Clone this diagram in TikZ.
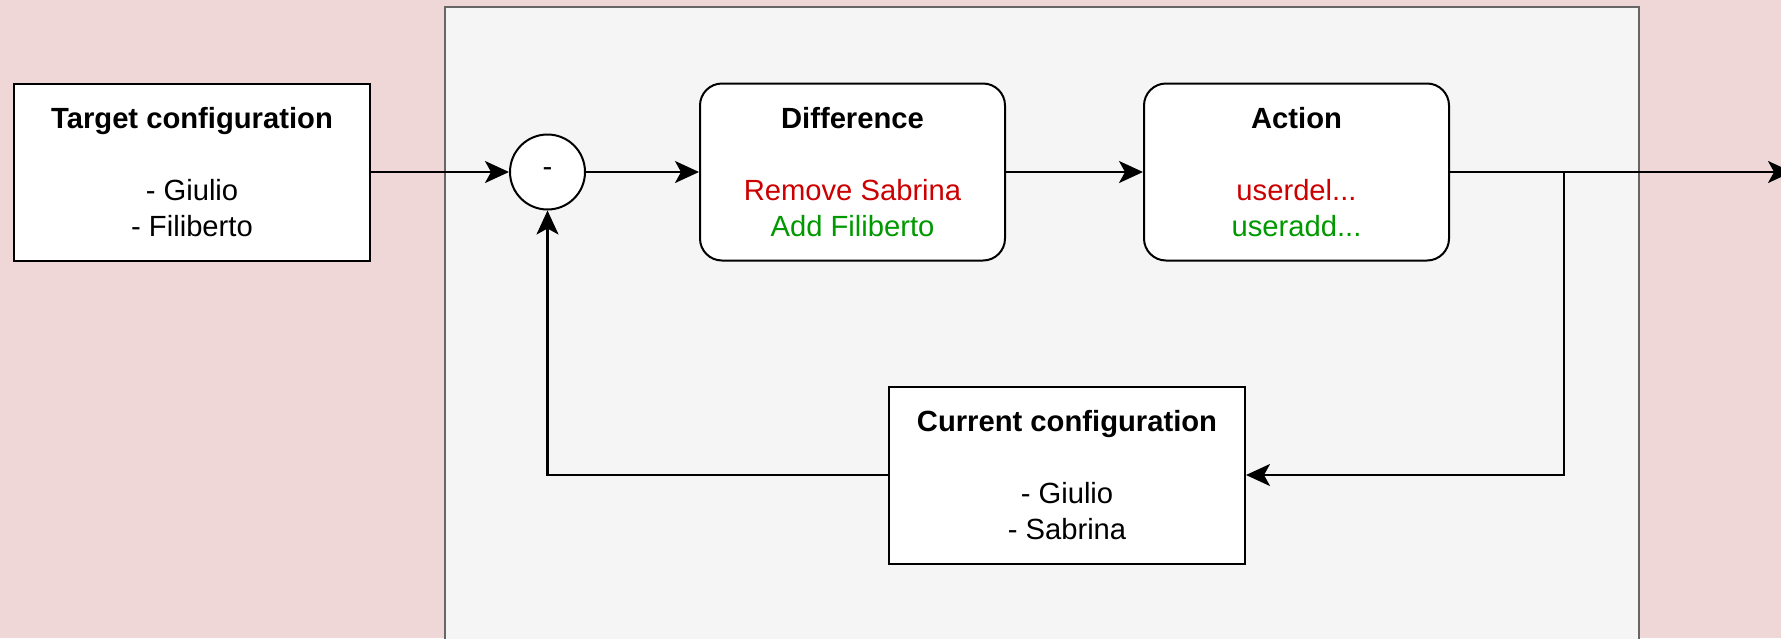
\documentclass[tikz,border=0pt]{standalone}
\usepackage{fontspec}
\setmainfont{Liberation Sans}
\usetikzlibrary{arrows.meta}

\definecolor{pinkbg}{HTML}{F0D7D7}
\definecolor{panelfill}{HTML}{F5F5F5}
\definecolor{panelline}{HTML}{666666}
\definecolor{delred}{HTML}{CC0000}
\definecolor{addgreen}{HTML}{009900}

\tikzset{
  block/.style = {draw, line width=1pt, fill=white, align=center,
    minimum width=178pt, minimum height=88.5pt, inner sep=0pt,
    font=\fontsize{14.6}{18}\selectfont},
  roundblock/.style = {block, rounded corners=11pt, minimum width=152.5pt},
  sumnode/.style = {draw, circle, line width=1pt, fill=white, minimum size=37.5pt,
    inner sep=0pt, font=\fontsize{14.6}{18}\selectfont},
  flow/.style = {line width=1.1pt, -{Stealth[length=12pt, width=11pt, inset=3pt]}}
}

\begin{document}
\begin{tikzpicture}[x=0.5pt, y=-0.5pt]
\useasboundingbox[fill=pinkbg] (0,0) rectangle (1781,638);

% controller panel
\fill[panelfill] (445,7) rectangle (1639,650);
\draw[panelline, line width=1.3pt] (445,650) -- (445,7) -- (1639,7) -- (1639,650);

\node[block] (target) at (192,172) {\textbf{Target configuration}\\[18pt]- Giulio\\- Filiberto};
\node[sumnode] (minus) at (547.5,172) {-};
\node[roundblock] (diff) at (852.5,172) {\textbf{Difference}\\[18pt]\textcolor{delred}{Remove Sabrina}\\\textcolor{addgreen}{Add Filiberto}};
\node[roundblock] (action) at (1296.5,172) {\textbf{Action}\\[18pt]\textcolor{delred}{userdel...}\\\textcolor{addgreen}{useradd...}};
\node[block] (current) at (1067,475) {\textbf{Current configuration}\\[18pt]- Giulio\\- Sabrina};

\coordinate (branch) at (1564,172);
\coordinate (out) at (1792,172);

\draw[flow] (target) -- (minus);
\draw[flow] (minus) -- (diff);
\draw[flow] (diff) -- (action);
\draw[flow] (action) -- (out);
\draw[flow] (branch) |- (current);
\draw[flow] (current) -| (minus);
\end{tikzpicture}
\end{document}
